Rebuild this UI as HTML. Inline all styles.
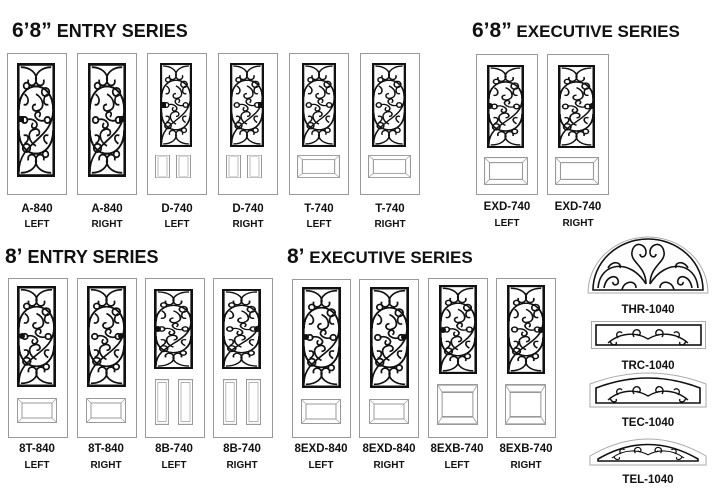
<!DOCTYPE html>
<html><head><meta charset="utf-8"><style>
html,body{margin:0;padding:0;background:#fff;}
svg{display:block;}
text{font-family:"Liberation Sans Narrow","Liberation Sans",sans-serif;font-weight:bold;fill:#111;}
.h{font-family:"Liberation Sans",sans-serif;font-weight:bold;}
</style></head><body>
<svg width="714" height="495" viewBox="0 0 714 495" xmlns="http://www.w3.org/2000/svg">
<defs>
<symbol id="s" viewBox="0 0 40 110" preserveAspectRatio="none">
<rect x="1.3" y="1.3" width="37.4" height="107.4" fill="#fff" stroke="#111" stroke-width="2.8"/>
<g fill="none" stroke="#111" stroke-width="1.8">
<path d="M2 45 C2 15 38 15 38 45 C38 75 2 75 2 105"/>
<path d="M38 45 C38 15 2 15 2 45"/>
<path d="M38 65 C38 95 2 95 2 65"/>
<path d="M2 65 C2 95 38 95 38 65"/>
<path d="M4 4 C14 4 22 10 20 18 C18 24 10 22 12 16"/>
<path d="M36 4 C26 4 18 10 20 18 C22 24 30 22 28 16"/>
<path d="M4 106 C14 106 22 100 20 92 C18 86 10 88 12 94"/>
<path d="M36 106 C26 106 18 100 20 92 C22 86 30 88 28 94"/>
<path d="M20 30 C28 34 30 44 22 46 C16 48 14 40 20 40"/>
<path d="M20 80 C12 76 10 66 18 64 C24 62 26 70 20 70"/>
<path d="M8 30 C14 34 12 42 7 40"/>
<path d="M32 30 C26 34 28 42 33 40"/>
<path d="M32 78 C26 74 28 68 33 70"/>
<path d="M8 78 C14 74 12 68 7 70"/>
<path d="M10 55 C16 52 24 58 20 62 C16 65 14 60 17 58"/>
<path d="M30 55 C24 58 16 52 20 48 C24 45 26 50 23 52"/>
<circle cx="30" cy="28" r="4"/><circle cx="10" cy="82" r="4"/>
<circle cx="30" cy="88" r="3"/><circle cx="10" cy="22" r="3"/>
<circle cx="8" cy="55" r="3"/><circle cx="32" cy="55" r="3"/>
</g>
</symbol>
<symbol id="p" viewBox="0 0 40 25" preserveAspectRatio="none">
<rect x="0.5" y="0.5" width="39" height="24" fill="#fff" stroke="#999" stroke-width="1"/>
<rect x="5" y="5" width="30" height="15" fill="#fff" stroke="#999" stroke-width="1"/>
<path d="M0.5 0.5 L5 5 M39.5 0.5 L35 5 M0.5 24.5 L5 20 M39.5 24.5 L35 20" stroke="#aaa" stroke-width="0.8"/>
</symbol>
<symbol id="q" viewBox="0 0 15 40" preserveAspectRatio="none">
<rect x="0.5" y="0.5" width="14" height="39" fill="#fff" stroke="#999" stroke-width="1"/>
<rect x="3" y="3" width="9" height="34" fill="#fff" stroke="#aaa" stroke-width="0.8"/>
</symbol>
<g id="tr">
<path d="M0 10 C14 -2 30 0 40 6 C50 0 66 -2 80 10" />
<path d="M26 4 C22 -2 30 -6 32 -1 C33 2 30 3 29 1"/>
<path d="M54 4 C58 -2 50 -6 48 -1 C47 2 50 3 51 1"/>
<path d="M10 5 C6 0 12 -3 14 0"/><path d="M70 5 C74 0 68 -3 66 0"/>
<path d="M2 8 C4 14 10 12 8 9"/><path d="M78 8 C76 14 70 12 72 9"/>
</g>
</defs>

<g fill="#fff" stroke="#999" stroke-width="1">
<rect x="7.5" y="53.5" width="59" height="141"/><rect x="77.5" y="53.5" width="59" height="141"/>
<rect x="147.5" y="53.5" width="59" height="141"/><rect x="218.5" y="53.5" width="59" height="141"/>
<rect x="289.5" y="53.5" width="59" height="141"/><rect x="360.5" y="53.5" width="59" height="141"/>
<rect x="476.5" y="54.5" width="61" height="140"/><rect x="547.5" y="54.5" width="61" height="140"/>
<rect x="8.5" y="278.5" width="59" height="159"/><rect x="77.5" y="278.5" width="59" height="159"/>
<rect x="145.5" y="278.5" width="59" height="159"/><rect x="213.5" y="278.5" width="59" height="159"/>
<rect x="292.5" y="279.5" width="58" height="158"/><rect x="359.5" y="279.5" width="59" height="158"/>
<rect x="428.5" y="278.5" width="59" height="159"/><rect x="496.5" y="278.5" width="59" height="159"/>
</g>

<use href="#s" x="17" y="63" width="38" height="114"/>
<use href="#s" x="88" y="63" width="38" height="114"/>
<use href="#s" x="160" y="63" width="32" height="84"/>
<use href="#s" x="230" y="63" width="34" height="84"/>
<use href="#s" x="302" y="63" width="34" height="84"/>
<use href="#s" x="372" y="63" width="34" height="84"/>
<use href="#s" x="487" y="65" width="37" height="83"/>
<use href="#s" x="558" y="65" width="37" height="83"/>
<use href="#s" x="17" y="286" width="39" height="101"/>
<use href="#s" x="87" y="286" width="39" height="101"/>
<use href="#s" x="154" y="289" width="39" height="80"/>
<use href="#s" x="222" y="289" width="39" height="80"/>
<use href="#s" x="302" y="287" width="39" height="101"/>
<use href="#s" x="370" y="287" width="39" height="101"/>
<use href="#s" x="439" y="285" width="38" height="89"/>
<use href="#s" x="507" y="285" width="38" height="89"/>

<g fill="#111">
<rect x="18" y="116" width="6" height="6"/><rect x="119" y="116" width="6" height="6"/>
<rect x="161" y="102" width="5" height="6"/><rect x="258" y="102" width="5" height="6"/>
<circle cx="490" cy="106" r="3"/><circle cx="592" cy="106" r="3"/>
<circle cx="22" cy="336" r="3"/><circle cx="121" cy="336" r="3"/>
<circle cx="158" cy="329" r="3"/><circle cx="257" cy="329" r="3"/>
<circle cx="306" cy="337" r="3"/><circle cx="404" cy="337" r="3"/>
<circle cx="443" cy="330" r="3"/><circle cx="541" cy="330" r="3"/>
</g>

<use href="#q" x="155" y="155" width="15" height="23"/><use href="#q" x="176" y="155" width="15" height="23"/>
<use href="#q" x="226" y="155" width="15" height="23"/><use href="#q" x="247" y="155" width="15" height="23"/>
<use href="#p" x="297" y="155" width="43" height="23"/><use href="#p" x="368" y="155" width="43" height="23"/>
<use href="#p" x="484" y="157" width="44" height="28"/><use href="#p" x="555" y="157" width="44" height="28"/>
<use href="#p" x="17" y="398" width="40" height="25"/><use href="#p" x="86" y="398" width="40" height="25"/>
<use href="#q" x="155" y="379" width="14" height="46"/><use href="#q" x="178" y="379" width="15" height="46"/>
<use href="#q" x="223" y="379" width="14" height="46"/><use href="#q" x="246" y="379" width="15" height="46"/>
<use href="#p" x="301" y="399" width="40" height="25"/><use href="#p" x="369" y="399" width="40" height="25"/>
<use href="#p" x="437" y="384" width="41" height="41"/><use href="#p" x="505" y="384" width="41" height="41"/>

<g fill="#fff" stroke="#aaa" stroke-width="1">
<path d="M588 293 A60 56 0 0 1 708 293 Z"/>
<rect x="591.5" y="321.5" width="114" height="27"/>
<path d="M590 407 L590 384 Q648 362 706 384 L706 407 Z"/>
<path d="M590 465 L590 456 Q648 422 706 456 L706 465 Z"/>
</g>
<g fill="none" stroke="#111" stroke-width="1.6">
<path d="M593 290 A55 51 0 0 1 703 290 Z"/>
<path d="M598 288 C600 262 630 258 646 284 M698 288 C696 262 666 258 650 284"/>
<path d="M646 284 C646 266 630 262 632 252 C634 240 646 244 646 252 C646 258 640 258 640 254"/>
<path d="M650 284 C650 266 666 262 664 252 C662 240 650 244 650 252 C650 258 656 258 656 254"/>
<path d="M604 288 C606 276 616 274 618 280 C620 286 612 286 613 282"/>
<path d="M692 288 C690 276 680 274 678 280 C676 286 684 286 683 282"/>
<path d="M608 268 C612 260 622 262 620 268"/><path d="M688 268 C684 260 674 262 676 268"/>
<path d="M622 290 C624 280 636 280 636 288"/><path d="M674 290 C672 280 660 280 660 288"/>
<rect x="596" y="325" width="105" height="20"/>
<path d="M596 396 L596 388 Q648 368 700 388 L700 403 L596 403 Z"/>
<path d="M598 459 Q648 430 698 459 L698 461 L598 461 Z"/>
</g>
<g fill="none" stroke="#111" stroke-width="1.4">
<use href="#tr" transform="translate(608,333)"/>
<use href="#tr" transform="translate(608,390)"/>
<use href="#tr" transform="translate(612,450) scale(0.9,0.8)"/>
</g>

<text class="h" x="12" y="37" font-size="21">6’8”<tspan font-size="18"> ENTRY SERIES</tspan></text>
<text class="h" x="472" y="37" font-size="21">6’8”<tspan font-size="17"> EXECUTIVE SERIES</tspan></text>
<text class="h" x="5" y="263" font-size="21">8’<tspan font-size="18"> ENTRY SERIES</tspan></text>
<text class="h" x="287" y="263" font-size="21">8’<tspan font-size="17"> EXECUTIVE SERIES</tspan></text>

<g font-size="11.5" text-anchor="middle">
<text x="37" y="212">A-840</text><text x="37" y="227" font-size="10">LEFT</text>
<text x="107" y="212">A-840</text><text x="107" y="227" font-size="10">RIGHT</text>
<text x="177" y="212">D-740</text><text x="177" y="227" font-size="10">LEFT</text>
<text x="248" y="212">D-740</text><text x="248" y="227" font-size="10">RIGHT</text>
<text x="319" y="212">T-740</text><text x="319" y="227" font-size="10">LEFT</text>
<text x="390" y="212">T-740</text><text x="390" y="227" font-size="10">RIGHT</text>
<text x="507" y="210">EXD-740</text><text x="507" y="226" font-size="10">LEFT</text>
<text x="578" y="210">EXD-740</text><text x="578" y="226" font-size="10">RIGHT</text>
<text x="37" y="452">8T-840</text><text x="37" y="468" font-size="10">LEFT</text>
<text x="106" y="452">8T-840</text><text x="106" y="468" font-size="10">RIGHT</text>
<text x="174" y="452">8B-740</text><text x="174" y="468" font-size="10">LEFT</text>
<text x="242" y="452">8B-740</text><text x="242" y="468" font-size="10">RIGHT</text>
<text x="321" y="452">8EXD-840</text><text x="321" y="468" font-size="10">LEFT</text>
<text x="389" y="452">8EXD-840</text><text x="389" y="468" font-size="10">RIGHT</text>
<text x="457" y="452">8EXB-740</text><text x="457" y="468" font-size="10">LEFT</text>
<text x="526" y="452">8EXB-740</text><text x="526" y="468" font-size="10">RIGHT</text>
<text x="648" y="313">THR-1040</text>
<text x="648" y="369">TRC-1040</text>
<text x="648" y="426">TEC-1040</text>
<text x="648" y="483">TEL-1040</text>
</g>
</svg>
</body></html>
